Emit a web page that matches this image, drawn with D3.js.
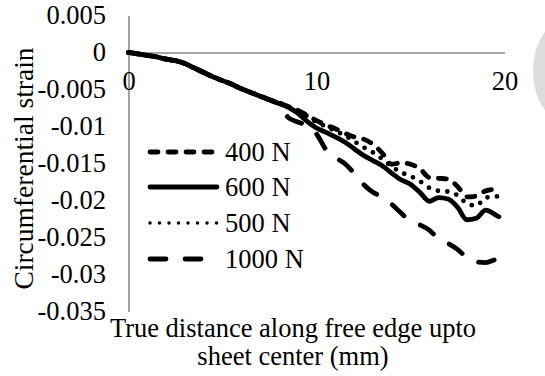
<!DOCTYPE html>
<html>
<head>
<meta charset="utf-8">
<script src="https://cdn.jsdelivr.net/npm/d3@7"></script>
<style>
  html, body { margin: 0; padding: 0; background: #fff; }
  svg { display: block; }
  svg text { font-family: "Liberation Serif", "DejaVu Serif", serif; }
</style>
</head>
<body>
<svg id="chart" width="545" height="376"></svg>
<script>
// Distance along the free edge (mm)
const distance = [0, 0.5, 1, 1.5, 2, 2.5, 3, 3.5, 4, 4.5, 5, 5.5, 6, 6.5, 7, 7.5, 8, 8.5, 9, 9.5,
  10, 10.5, 11, 11.5, 12, 12.5, 13, 13.5, 14, 14.5, 15, 15.5, 16, 16.5, 17, 17.5, 18, 18.5, 19, 19.5, 19.7];

// Circumferential strain for each load
const strain400 = [0, -0.0002, -0.0004, -0.0006, -0.0009, -0.0011, -0.0015, -0.0021, -0.0027, -0.0033,
  -0.0038, -0.0043, -0.0049, -0.0054, -0.0059, -0.0064, -0.0068, -0.0073, -0.0078, -0.0085,
  -0.0092, -0.0098, -0.0103, -0.0109, -0.0114, -0.0117, -0.0124, -0.0136, -0.0151, -0.0149,
  -0.0151, -0.0157, -0.0169, -0.0170, -0.0171, -0.0181, -0.0195, -0.0194, -0.0187, -0.0185, -0.0186];
const strain600 = [0, -0.0002, -0.0004, -0.0006, -0.0009, -0.0011, -0.0015, -0.0021, -0.0027, -0.0033,
  -0.0038, -0.0043, -0.0049, -0.0054, -0.0059, -0.0064, -0.0069, -0.0074, -0.0082, -0.0093,
  -0.0102, -0.0108, -0.0114, -0.0121, -0.0130, -0.0139, -0.0146, -0.0153, -0.0163, -0.0172,
  -0.0178, -0.0189, -0.0201, -0.0196, -0.0198, -0.0209, -0.0226, -0.0224, -0.0213, -0.0219, -0.0222];
const strain500 = [0, -0.0002, -0.0004, -0.0006, -0.0009, -0.0011, -0.0015, -0.0021, -0.0027, -0.0033,
  -0.0038, -0.0043, -0.0049, -0.0054, -0.0059, -0.0064, -0.0068, -0.0073, -0.0079, -0.0086,
  -0.0094, -0.0100, -0.0106, -0.0112, -0.0120, -0.0128, -0.0135, -0.0144, -0.0154, -0.0162,
  -0.0167, -0.0174, -0.0183, -0.0187, -0.0188, -0.0193, -0.0204, -0.0207, -0.0196, -0.0195, -0.0194];
const strain1000 = [0, -0.0002, -0.0004, -0.0006, -0.0009, -0.0011, -0.0015, -0.0021, -0.0027, -0.0033,
  -0.0038, -0.0043, -0.0049, -0.0054, -0.0059, -0.0064, -0.0070, -0.0088, -0.0094, -0.0099,
  -0.0110, -0.0131, -0.0142, -0.0150, -0.0163, -0.0178, -0.0189, -0.0195, -0.0205, -0.0217,
  -0.0228, -0.0233, -0.0240, -0.0252, -0.0258, -0.0266, -0.0277, -0.0283, -0.0284, -0.0280, -0.0279];

const seriesNames = ["400 N", "600 N", "500 N", "1000 N"];
const seriesValues = [strain400, strain600, strain500, strain1000];

const xTicks = [0, 10, 20];
const yTicks = [0.005, 0, -0.005, -0.01, -0.015, -0.02, -0.025, -0.03, -0.035];

const xTitle = ["True distance along free edge upto", "sheet center (mm)"];
const yTitle = "Circumferential strain";

// Line styles per series: dash pattern (round caps)
const dashes = {
  "400 N": "8 10",
  "600 N": null,
  "500 N": "0 9.5",
  "1000 N": "16 19"
};

const FONT = "Liberation Serif";
const FS = 26.5;

const svg = d3.select("#chart");
const x = d3.scaleLinear().domain([0, 20]).range([128.5, 504.5]);
const y = d3.scaleLinear().domain([0.005, -0.035]).range([15.5, 311.5]);

// Decorative shape at the right edge
svg.append("ellipse")
  .attr("cx", 568).attr("cy", 71).attr("rx", 35).attr("ry", 52)
  .attr("fill", "#dcdcdc");

const axisColor = "#898989";

// Vertical axis
const yAxis = svg.append("g").attr("transform", `translate(${x(0)},0)`)
  .call(d3.axisLeft(y).tickValues(yTicks).tickSize(0).tickPadding(22.5)
    .tickFormat(d => d === 0 ? "0" : String(+d.toFixed(3))));
yAxis.attr("font-family", FONT).attr("font-size", FS);
yAxis.select(".domain").attr("stroke", axisColor).attr("stroke-width", 1.6);
yAxis.selectAll("text").attr("fill", "#000");

// Horizontal axis at zero strain
const xAxis = svg.append("g").attr("transform", `translate(0,${y(0)})`)
  .call(d3.axisBottom(x).tickValues(xTicks).tickSize(0).tickPadding(19).tickFormat(d3.format("d")));
xAxis.attr("font-family", FONT).attr("font-size", FS);
xAxis.select(".domain").attr("stroke", axisColor).attr("stroke-width", 1.6);
xAxis.selectAll("text").attr("fill", "#000");

// Data lines
const line = d3.line()
  .x(d => x(d[0]))
  .y(d => y(d[1]))
  .curve(d3.curveMonotoneX);

seriesNames.forEach((name, i) => {
  const pts = distance.map((dv, j) => [dv, seriesValues[i][j]]);
  svg.append("path")
    .datum(pts)
    .attr("d", line)
    .attr("fill", "none")
    .attr("stroke", "#000")
    .attr("stroke-width", 4.8)
    .attr("stroke-linecap", "round")
    .attr("stroke-linejoin", "round")
    .attr("stroke-dasharray", dashes[name]);
});

// Legend
const legendY = [152, 187, 223, 259];
const legend = svg.append("g").attr("font-family", FONT).attr("font-size", FS);
seriesNames.forEach((name, i) => {
  legend.append("line")
    .attr("x1", 150).attr("x2", 217)
    .attr("y1", legendY[i]).attr("y2", legendY[i])
    .attr("stroke", "#000")
    .attr("stroke-width", name === "500 N" ? 3.5 : 4.8)
    .attr("stroke-linecap", "round")
    .attr("stroke-dasharray", dashes[name]);
  legend.append("text")
    .attr("x", 225).attr("y", legendY[i]).attr("dy", "0.34em")
    .attr("fill", "#000")
    .text(name);
});

// Axis titles
svg.append("text")
  .attr("transform", "translate(33,168.5) rotate(-90)")
  .attr("text-anchor", "middle")
  .attr("font-family", FONT).attr("font-size", 27.5).attr("fill", "#000")
  .text(yTitle);

svg.selectAll(".xtitle").data(xTitle).enter().append("text")
  .attr("class", "xtitle")
  .attr("x", 293).attr("y", (d, i) => 337 + i * 28)
  .attr("text-anchor", "middle")
  .attr("font-family", FONT).attr("font-size", FS).attr("fill", "#000")
  .text(d => d);
</script>
</body>
</html>
